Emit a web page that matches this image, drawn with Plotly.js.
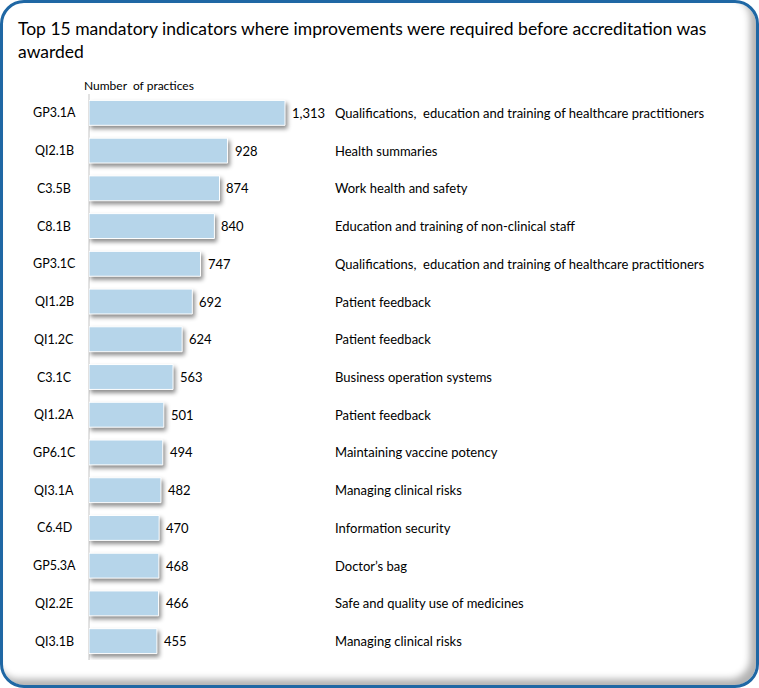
<!DOCTYPE html>
<html>
<head>
<meta charset="utf-8">
<script src="https://cdn.plot.ly/plotly-3.0.1.min.js"></script>
<style>
  html, body { margin: 0; padding: 0; background: #ffffff; }
  #wrap { position: relative; width: 759px; height: 688px; overflow: hidden; }
  #chart { position: absolute; left: 0; top: 0; width: 759px; height: 688px; }
  #frame {
    position: absolute; left: 0; top: 0; width: 753px; height: 682px;
    border: 3px solid #1f67a4; border-radius: 24px;
    box-shadow: inset -6px -6px 7px rgba(0,0,0,0.30);
    pointer-events: none;
  }
  #chart .bars path { filter: drop-shadow(2px 3px 2px rgba(0,0,0,0.45)); }
</style>
</head>
<body>
<div id="wrap">
  <div id="chart"></div>
  <div id="frame"></div>
</div>
<script>
const indicators = ["GP3.1A","QI2.1B","C3.5B","C8.1B","GP3.1C","QI1.2B","QI1.2C","C3.1C","QI1.2A","GP6.1C","QI3.1A","C6.4D","GP5.3A","QI2.2E","QI3.1B"];
const practices = [1313, 928, 874, 840, 747, 692, 624, 563, 501, 494, 482, 470, 468, 466, 455];
const descriptions = [
  "Qualifications,  education and training of healthcare practitioners",
  "Health summaries",
  "Work health and safety",
  "Education and training of non-clinical staff",
  "Qualifications,  education and training of healthcare practitioners",
  "Patient feedback",
  "Patient feedback",
  "Business operation systems",
  "Patient feedback",
  "Maintaining vaccine potency",
  "Managing clinical risks",
  "Information security",
  "Doctor\u2019s bag",
  "Safe and quality use of medicines",
  "Managing clinical risks"
];
const chartTitle = "Top 15 mandatory indicators where improvements were required before accreditation was<br>awarded";
const axisLabel = "Number\u00a0 of practices";

const FONT = "Lato, 'Open Sans', sans-serif";
const W = 759, H = 688;
const mL = 89, mR = 19, mT = 94, mB = 28;
const plotW = W - mL - mR;
const plotH = H - mT - mB;
const px = v => (v - mL) / plotW;          // pixel x -> paper x
const py = v => (H - mB - v) / plotH;      // pixel y -> paper y

const annotations = [];
indicators.forEach((c, i) => {
  annotations.push({
    x: px(54), xref: "paper", y: c, yref: "y",
    text: c, showarrow: false, xanchor: "center", yanchor: "middle",
    font: {family: FONT, size: 12.5, color: "#000000"}
  });
  annotations.push({
    x: practices[i], xref: "x", y: c, yref: "y",
    text: practices[i].toLocaleString("en-US"), showarrow: false,
    xanchor: "left", yanchor: "middle", xshift: 5,
    font: {family: FONT, size: 13, color: "#000000"}
  });
  annotations.push({
    x: px(333), xref: "paper", y: c, yref: "y",
    text: descriptions[i], showarrow: false, xanchor: "left", yanchor: "middle",
    font: {family: FONT, size: 13, color: "#000000"}
  });
});
annotations.push({
  x: px(82), xref: "paper", y: py(85), yref: "paper",
  text: axisLabel, showarrow: false, xanchor: "left", yanchor: "middle",
  font: {family: FONT, size: 12, color: "#000000"}
});
annotations.push({
  x: px(16), xref: "paper", y: py(16), yref: "paper",
  text: chartTitle, showarrow: false, xanchor: "left", yanchor: "top", align: "left",
  font: {family: FONT, size: 17.5, color: "#000000"}
});

const data = [{
  type: "bar",
  orientation: "h",
  y: indicators,
  x: practices,
  marker: {color: "#b6d5ea", line: {color: "#ffffff", width: 1}},
  hoverinfo: "x+y"
}];

const layout = {
  width: W, height: H,
  margin: {l: mL, r: mR, t: mT, b: mB, pad: 0},
  paper_bgcolor: "rgba(0,0,0,0)",
  plot_bgcolor: "rgba(0,0,0,0)",
  font: {family: FONT, size: 12, color: "#000000"},
  bargap: 0.34,
  showlegend: false,
  xaxis: {
    range: [0, plotW / 0.1493], visible: false, fixedrange: true
  },
  yaxis: {
    type: "category", autorange: "reversed",
    showticklabels: false, ticks: "", showgrid: false, zeroline: false,
    showline: false, fixedrange: true
  },
  shapes: [{
    type: "line", xref: "paper", yref: "paper", x0: 0, x1: 0, y0: 0, y1: 1,
    line: {color: "#d9d9d9", width: 1.5}, layer: "below"
  }],
  annotations: annotations
};

Plotly.newPlot("chart", data, layout, {displayModeBar: false, staticPlot: true});
</script>
</body>
</html>
